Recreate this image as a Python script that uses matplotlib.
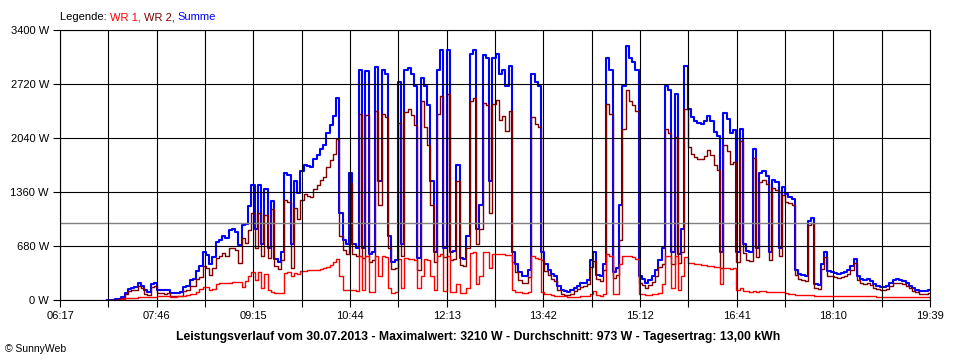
"""SunnyWeb power profile for 30.07.2013 (WR 1, WR 2, Summe)."""

import numpy as np
import matplotlib
matplotlib.use("Agg")
import matplotlib.pyplot as plt
from matplotlib.offsetbox import TextArea, HPacker, AnchoredOffsetbox

plt.rcParams.update({
    "font.family": ["Liberation Sans", "DejaVu Sans"],
    "font.size": 8,
    "axes.linewidth": 0.8,
})
RED, DARKRED, BLUE, GREY = "#ff0000", "#800000", "#0000ff", "#808080"

# samples every 3 minutes from 07:00 to 19:39 (minutes of the day)
t_first, t_last, t_step = 7 * 60, 19 * 60 + 39, 3

# Summe (W)
summe = [
    0, 0, 5, 10, 15, 40, 90, 140, 150, 160,
    210, 180, 120, 100, 200, 220, 130, 130, 120, 130,
    90, 85, 90, 100, 170, 180, 250, 260, 370, 430,
    600, 570, 450, 540, 730, 760, 800, 780, 880, 890,
    860, 690, 950, 960, 1180, 1450, 900, 1450, 700, 1400,
    650, 1250, 520, 480, 600, 1600, 1580, 700, 1500, 1350,
    1620, 1700, 1690, 1680, 1780, 1830, 1900, 1950, 2100, 2200,
    2320, 2550, 1100, 750, 700, 1600, 700, 660, 2900, 650,
    2880, 580, 600, 2940, 1500, 2900, 2850, 800, 480, 500,
    2750, 700, 2900, 2920, 2850, 2700, 530, 2800, 2700, 2450,
    1500, 600, 2900, 3150, 650, 3150, 600, 620, 1700, 530,
    520, 800, 3100, 3150, 900, 1200, 3080, 3050, 1500, 3050,
    3100, 2850, 2900, 2700, 2950, 600, 450, 350, 300, 300,
    380, 2850, 2750, 2700, 600, 450, 380, 330, 300, 180,
    120, 110, 100, 120, 150, 180, 210, 220, 250, 500,
    600, 320, 300, 450, 3050, 2900, 350, 400, 1200, 2700,
    3200, 3050, 3000, 2900, 300, 260, 220, 250, 300, 380,
    500, 650, 2700, 2650, 600, 2600, 580, 900, 2950, 2400,
    2300, 2250, 2230, 2220, 2250, 2320, 2260, 2120, 2060, 600,
    2350, 2280, 2100, 2140, 600, 2150, 700, 620, 600, 1900,
    650, 1600, 1620, 1560, 600, 1510, 1490, 650, 1420, 1330,
    1300, 1270, 380, 330, 310, 300, 1000, 1030, 200, 190,
    450, 600, 360, 350, 340, 330, 340, 350, 380, 430,
    520, 300, 260, 250, 260, 240, 200, 180, 170, 170,
    180, 220, 250, 260, 255, 240, 220, 180, 150, 130,
    115, 110, 110, 120,
]

# WR 1 (W)
wr1 = [
    0, 0, 0, 5, 5, 10, 20, 25, 30, 30,
    35, 35, 40, 40, 40, 40, 45, 45, 45, 45,
    40, 40, 45, 50, 55, 60, 70, 80, 100, 140,
    170, 170, 130, 140, 200, 210, 210, 220, 220, 230,
    230, 230, 170, 240, 300, 350, 250, 350, 150, 330,
    120, 100, 90, 85, 90, 340, 350, 300, 340, 330,
    360, 370, 380, 380, 380, 380, 390, 400, 420, 440,
    480, 520, 300, 120, 125, 130, 125, 110, 560, 120,
    550, 100, 100, 560, 300, 560, 540, 150, 90, 95,
    520, 150, 530, 520, 520, 500, 150, 300, 520, 500,
    300, 120, 560, 580, 110, 560, 100, 100, 200, 90,
    90, 150, 590, 600, 200, 300, 600, 600, 400, 580,
    580, 580, 580, 570, 570, 120, 100, 95, 90, 90,
    95, 550, 530, 520, 100, 80, 70, 60, 55, 50,
    45, 45, 40, 40, 40, 40, 45, 45, 50, 80,
    110, 60, 55, 70, 580, 560, 70, 80, 450, 550,
    560, 550, 540, 520, 80, 70, 65, 65, 70, 75,
    90, 200, 550, 550, 150, 550, 120, 300, 540, 470,
    460, 450, 450, 440, 440, 430, 430, 420, 420, 200,
    400, 400, 390, 400, 120, 150, 110, 110, 105, 110,
    105, 110, 110, 105, 100, 100, 100, 95, 95, 90,
    80, 70, 65, 60, 60, 60, 60, 60, 55, 55,
    55, 55, 55, 50, 50, 50, 50, 50, 50, 50,
    50, 50, 45, 45, 45, 45, 45, 40, 40, 40,
    40, 40, 40, 40, 40, 40, 40, 35, 35, 35,
    35, 35, 35, 35,
]

mean_w = 973
x_from, x_to = 6 * 60 + 17, 19 * 60 + 39
x_labels = ["06:17", "07:46", "09:15", "10:44", "12:13",
            "13:42", "15:12", "16:41", "18:10", "19:39"]
y_ticks = [0, 680, 1360, 2040, 2720, 3400]
title = ("Leistungsverlauf vom 30.07.2013 - Maximalwert: 3210 W - "
         "Durchschnitt: 973 W - Tagesertrag: 13,00 kWh")


def main():
    t = np.arange(t_first, t_last + 1, t_step)
    s = np.array(summe, dtype=float)
    w1 = np.array(wr1, dtype=float)
    w2 = s - w1  # Summe is WR 1 + WR 2

    fig = plt.figure(figsize=(9.6, 3.6), dpi=100)
    ax = fig.add_axes([60 / 960, 60 / 360, 870 / 960, 270 / 360])

    ax.plot(t, s, color=BLUE, lw=1.5, drawstyle="steps-mid", zorder=2.0)
    ax.plot(t, w2, color=DARKRED, lw=1.0, drawstyle="steps-mid", zorder=2.1)
    ax.plot(t, w1, color=RED, lw=1.0, drawstyle="steps-mid", zorder=2.2)
    # grid and mean line sit on top of the curves, as in SunnyWeb
    ax.axhline(mean_w, color=GREY, lw=1.0, zorder=2.3)

    ax.set_xlim(x_from, x_to)
    ax.set_ylim(0, 3400)
    xt = np.linspace(x_from, x_to, 2 * len(x_labels) - 1)
    ax.set_xticks(xt)
    lab = []
    for k in range(len(xt)):
        lab.append(x_labels[k // 2] if k % 2 == 0 else "")
    ax.set_xticklabels(lab)
    ax.set_yticks(y_ticks)
    ax.set_yticklabels([f"{v} W" for v in y_ticks])
    ax.tick_params(length=5, width=0.8, direction="out", pad=3, labelsize=8)
    ax.set_axisbelow(False)
    ax.grid(True, color="black", lw=0.8)
    for sp in ax.spines.values():
        sp.set_color("black")

    fig.text(478 / 960, 1 - 337 / 360, title, ha="center", va="center",
             fontsize=8.8, fontweight="bold")
    fig.text(5 / 960, 1 - 349 / 360, "\u00a9 SunnyWeb", ha="left", va="center",
             fontsize=7.5)

    parts = [("Legende: ", "black"), ("WR 1, ", RED), ("WR 2, ", DARKRED),
             ("Summe", BLUE)]
    box = HPacker(children=[TextArea(txt, textprops=dict(color=c, size=8))
                            for txt, c in parts],
                  align="baseline", pad=0, sep=0)
    leg = AnchoredOffsetbox(loc="lower left", child=box, pad=0, borderpad=0,
                            frameon=False, bbox_to_anchor=(60 / 960, 1 - 22 / 360),
                            bbox_transform=fig.transFigure)
    fig.add_artist(leg)

    fig.savefig("out.png", dpi=100, facecolor="white")
    plt.close(fig)


if __name__ == "__main__":
    main()
